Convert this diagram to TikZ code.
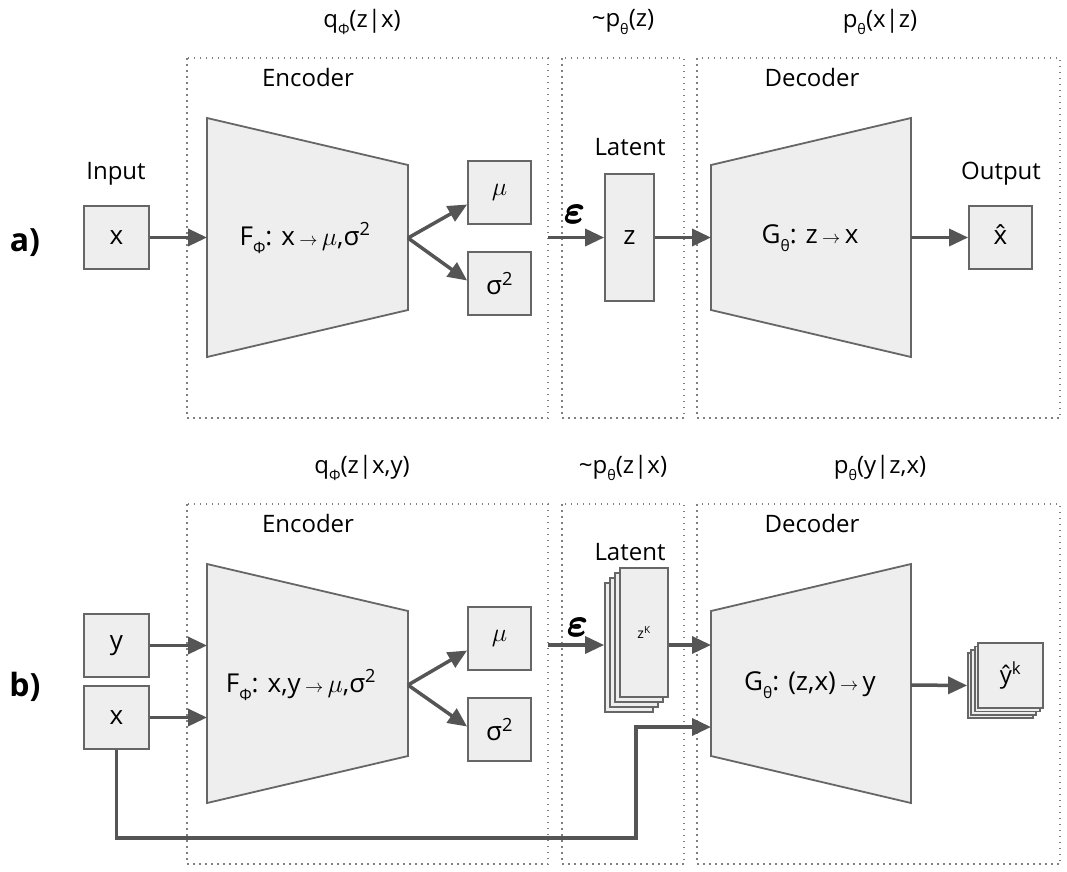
\RequirePackage{fix-cm}
\documentclass[tikz,border=0pt]{standalone}
\usepackage{amsmath}
\usepackage{bm}
\usepackage{graphicx}
\usepackage{fontspec}
\setmainfont{Open Sans}
\usetikzlibrary{arrows.meta}
\definecolor{boxfill}{HTML}{EEEEEE}
\definecolor{edgec}{HTML}{666666}
\definecolor{arrc}{HTML}{555555}
\definecolor{dotc}{HTML}{808080}
\newcommand{\lo}[1]{\raisebox{-0.55ex}{\scalebox{0.6}{#1}}}
\newcommand{\hi}[1]{\textsuperscript{#1}}
\newcommand{\sarr}{\,$\scriptstyle\rightarrow$\,}
\newcommand{\xhat}{{\ooalign{x\cr\hidewidth\char"02C6\hidewidth\cr}}}
\newcommand{\beps}{\scalebox{1.3}{\pmb{$\bm{\varepsilon}$}}}
\begin{document}
\begin{tikzpicture}[x=1pt,y=-1pt,
  sq/.style={draw=edgec, fill=boxfill, line width=1.8pt, inner sep=0pt, font=\fontsize{26}{30}\selectfont},
  trap/.style={draw=edgec, fill=boxfill, line width=1.8pt},
  lbl/.style={font=\fontsize{24}{28}\selectfont, inner sep=0pt},
  big/.style={font=\fontsize{26}{30}\selectfont, inner sep=0pt},
  sec/.style={font=\fontsize{32}{36}\selectfont\bfseries, inner sep=0pt},
  eps/.style={inner sep=0pt, font=\fontsize{30}{32}\selectfont},
  arw/.style={draw=arrc, line width=3.5pt, -{Triangle[length=19pt,width=17pt]}},
  dotbox/.style={draw=dotc, line width=1.5pt, dash pattern=on 1.5pt off 4.5pt}
]
\useasboundingbox (0,0) rectangle (1067,871);

% ---------------- a) ----------------
\draw[dotbox] (187,58) rectangle (548,418);
\draw[dotbox] (562,58) rectangle (684,418);
\draw[dotbox] (697,58) rectangle (1060,418);

\node[lbl] (qa) at (362,22) {q\lo{Φ}(z|x)};
\node[lbl] (pza) at (623,22) {\textasciitilde p\lo{θ}(z)};
\node[lbl] (pxa) at (880,22) {p\lo{θ}(x|z)};
\node[lbl] (enca) at (308,77) {Encoder};
\node[lbl] (deca) at (812,77) {Decoder};
\node[lbl] (lata) at (630,147) {Latent};
\node[lbl] (inpa) at (116,174) {Input};
\node[lbl] (outla) at (1001,174) {Output};
\node[sec] (seca) at (25,243) {a)};

\node[sq, minimum width=65pt, minimum height=63pt] (xa) at (116.5,237.5) {x};
\draw[trap] (207,118) -- (408,165) -- (408,310) -- (207,357) -- cycle;
\node[big] (fa) at (305,238) {F\lo{Φ}: x\sarr$\mu$,σ\hi{2}};
\coordinate (encLa) at (207,237.5);
\coordinate (encRa) at (408,238);
\node[sq, minimum width=63pt, minimum height=63pt] (mua) at (499.5,192.5) {$\mu$};
\node[sq, minimum width=63pt, minimum height=63pt] (sga) at (499.5,283.5) {σ\hi{2}};
\node[sq, minimum width=49pt, minimum height=127pt] (za) at (629.5,237.5) {z};
\coordinate (epsa) at (548,237.5);
\node[eps] (epla) at (575,214) {\beps};
\draw[trap] (711,165) -- (911,118) -- (911,357) -- (711,310) -- cycle;
\node[big] (ga) at (810,238) {G\lo{θ}: z\sarr x};
\coordinate (decLa) at (711,237.5);
\coordinate (decRa) at (911,237.5);
\node[sq, minimum width=63pt, minimum height=63pt] (oa) at (1000.5,237.5) {\xhat};

\draw[arw] (xa.east) -- (encLa);
\draw[arw] (encRa) -- ([yshift=-12pt]mua.west);
\draw[arw] (encRa) -- ([yshift=3pt]sga.west);
\draw[arw] (epsa) -- (za.west);
\draw[arw] (za.east) -- (decLa);
\draw[arw] (decRa) -- (oa.west);

% ---------------- b) ----------------
\draw[dotbox] (187,504) rectangle (548,864);
\draw[dotbox] (562,504) rectangle (684,864);
\draw[dotbox] (697,504) rectangle (1060,864);

\node[lbl] (qb) at (362,468) {q\lo{Φ}(z|x,y)};
\node[lbl] (pzb) at (623,468) {\textasciitilde p\lo{θ}(z|x)};
\node[lbl] (pxb) at (880,468) {p\lo{θ}(y|z,x)};
\node[lbl] (encb) at (308,523) {Encoder};
\node[lbl] (decb) at (812,523) {Decoder};
\node[lbl] (latb) at (630,552) {Latent};
\node[sec] (secb) at (25,687) {b)};

\node[sq, minimum width=65pt, minimum height=63pt] (yb) at (116.5,645.5) {y};
\node[sq, minimum width=65pt, minimum height=63pt] (xb) at (116.5,717.5) {x};
\draw[trap] (207,564) -- (408,611) -- (408,756) -- (207,803) -- cycle;
\node[big] (fb) at (301,685) {F\lo{Φ}: x,y\sarr$\mu$,σ\hi{2}};
\coordinate (encLyb) at (207,645.5);
\coordinate (encLxb) at (207,717.5);
\coordinate (encRb) at (408,685);
\node[sq, minimum width=63pt, minimum height=63pt] (mub) at (499.5,638.5) {$\mu$};
\node[sq, minimum width=63pt, minimum height=63pt] (sgb) at (499.5,729.5) {σ\hi{2}};

\node[sq, minimum width=48pt, minimum height=129pt] (zb3) at (629,647.5) {};
\node[sq, minimum width=48pt, minimum height=129pt] (zb2) at (634,642.5) {};
\node[sq, minimum width=48pt, minimum height=129pt] (zb1) at (639,637.5) {};
\node[sq, minimum width=48pt, minimum height=129pt, font=\fontsize{14}{16}\selectfont] (zb0) at (644,632.5) {z\hi{K}};
\coordinate (epsb) at (548,645);
\node[eps] (eplb) at (578,627) {\beps};

\draw[trap] (711,611) -- (911,564) -- (911,803) -- (711,756) -- cycle;
\node[big] (gb) at (810,685) {G\lo{θ}: (z,x)\sarr y};
\coordinate (decLzb) at (711,645);
\coordinate (decLxb) at (711,727);
\coordinate (decRb) at (911,685);
\coordinate (xturn) at (636,838);

\node[sq, minimum width=65pt, minimum height=65pt] (ob3) at (1000.5,685.5) {};
\node[sq, minimum width=65pt, minimum height=65pt] (ob2) at (1003.8,682.2) {};
\node[sq, minimum width=65pt, minimum height=65pt] (ob1) at (1007.1,678.9) {};
\node[sq, minimum width=65pt, minimum height=65pt, font=\fontsize{24}{28}\selectfont] (ob0) at (1010.5,675.5) {ŷ\hi{k}};

\draw[arw] (yb.east) -- (encLyb);
\draw[arw] (xb.east) -- (encLxb);
\draw[arw] (encRb) -- ([yshift=-12pt]mub.west);
\draw[arw] (encRb) -- ([yshift=3pt]sgb.west);
\draw[arw] (epsb) -- (zb3.west |- epsb);
\draw[arw] (zb0.east |- decLzb) -- (decLzb);
\draw[arw] (decRb) -- (ob3.west);
\draw[arw] (xb.south) |- (xturn) |- (decLxb);
\end{tikzpicture}
\end{document}
